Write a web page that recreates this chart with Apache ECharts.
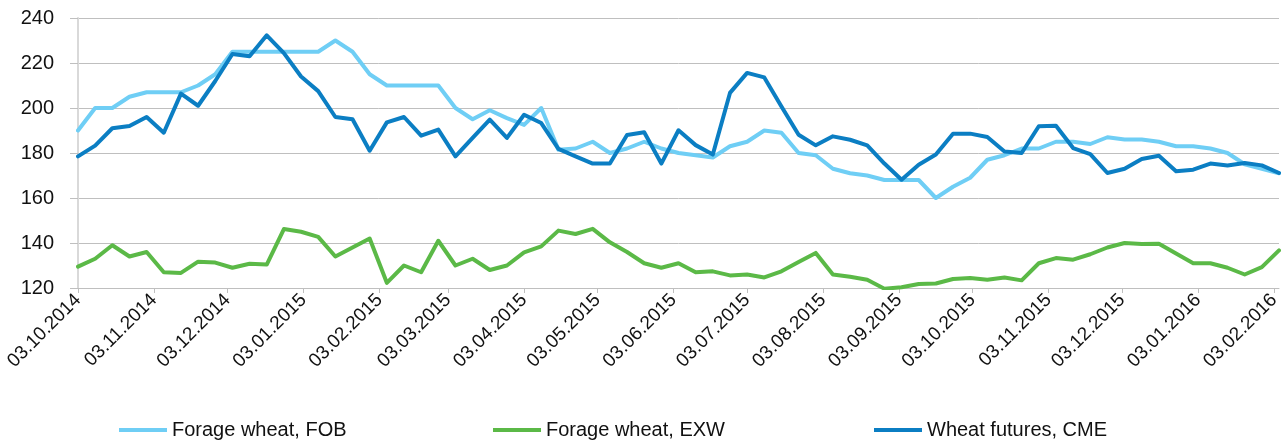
<!DOCTYPE html>
<html>
<head>
<meta charset="utf-8">
<title>Wheat prices</title>
<script src="https://cdn.jsdelivr.net/npm/echarts@6/dist/echarts.min.js"></script>
<style>
  html, body { margin: 0; padding: 0; background: #ffffff; }
  #chart { width: 1285px; height: 443px; }
</style>
</head>
<body>
<div id="chart"></div>
<script>
// Weekly observation dates (Fridays)
const weekDates = [
  '03.10.2014', '10.10.2014', '17.10.2014', '24.10.2014', '31.10.2014',
  '07.11.2014', '14.11.2014', '21.11.2014', '28.11.2014',
  '05.12.2014', '12.12.2014', '19.12.2014', '26.12.2014',
  '02.01.2015', '09.01.2015', '16.01.2015', '23.01.2015', '30.01.2015',
  '06.02.2015', '13.02.2015', '20.02.2015', '27.02.2015',
  '06.03.2015', '13.03.2015', '20.03.2015', '27.03.2015',
  '03.04.2015', '10.04.2015', '17.04.2015', '24.04.2015',
  '01.05.2015', '08.05.2015', '15.05.2015', '22.05.2015', '29.05.2015',
  '05.06.2015', '12.06.2015', '19.06.2015', '26.06.2015',
  '03.07.2015', '10.07.2015', '17.07.2015', '24.07.2015', '31.07.2015',
  '07.08.2015', '14.08.2015', '21.08.2015', '28.08.2015',
  '04.09.2015', '11.09.2015', '18.09.2015', '25.09.2015',
  '02.10.2015', '09.10.2015', '16.10.2015', '23.10.2015', '30.10.2015',
  '06.11.2015', '13.11.2015', '20.11.2015', '27.11.2015',
  '04.12.2015', '11.12.2015', '18.12.2015', '25.12.2015',
  '01.01.2016', '08.01.2016', '15.01.2016', '22.01.2016', '29.01.2016',
  '05.02.2016'
];

// Monthly tick labels on the date axis
const monthTicks = [
  '03.10.2014', '03.11.2014', '03.12.2014', '03.01.2015', '03.02.2015',
  '03.03.2015', '03.04.2015', '03.05.2015', '03.06.2015', '03.07.2015',
  '03.08.2015', '03.09.2015', '03.10.2015', '03.11.2015', '03.12.2015',
  '03.01.2016', '03.02.2016'
];

// Prices, USD/t
const fobPrices = [
  190, 200, 200, 205, 207, 207, 207, 210, 215, 225,
  225, 225, 225, 225, 225, 230, 225, 215, 210, 210,
  210, 210, 200, 195, 199, 195.5, 192.5, 200, 181.5, 182,
  185, 180, 182, 185, 182, 180, 179, 178, 183, 185,
  190, 189, 180, 179, 173, 171, 170, 168, 168, 168,
  160, 165, 169, 177, 179, 182, 182, 185, 185, 184,
  187, 186, 186, 185, 183, 183, 182, 180, 175, 173,
  171
];

const exwPrices = [
  129.5, 133, 139, 134, 136, 127, 126.7, 131.7, 131.3, 129,
  130.8, 130.4, 146.2, 145, 142.7, 134, 138, 142, 122.3, 130,
  127, 141, 130, 133, 128, 130, 135.8, 138.5, 145.5, 144,
  146.3, 140.3, 136, 131, 129, 131, 127, 127.4, 125.6, 126,
  124.7, 127.4, 131.6, 135.6, 126, 125, 123.7, 119.7, 120.3, 121.8,
  122, 124, 124.4, 123.7, 124.7, 123.4, 131, 133.3, 132.6, 135,
  138, 140, 139.6, 139.7, 135.3, 131, 131, 129, 126, 129.3,
  136.7
];

const cmeFutures = [
  178.5, 183.3, 191, 192, 196, 189, 206.4, 201, 212, 224,
  223, 232.3, 224.4, 214, 207.5, 196, 195, 181, 193.6, 196,
  187.7, 190.4, 178.5, 186.7, 194.8, 186.7, 197, 193.3, 181.8, 178.5,
  175.3, 175.3, 188, 189.2, 175.3, 190.1, 183.5, 179.3, 206.7, 215.6,
  213.6, 200.7, 188.1, 183.4, 187.4, 185.9, 183.4, 175.3, 168.1, 174.8,
  179.3, 188.6, 188.6, 187.1, 180.7, 180, 191.9, 192.1, 182.2, 179.5,
  171.1, 173, 177.3, 178.8, 171.9, 172.6, 175.3, 174.4, 175.6, 174.5,
  171.1
];

const seriesNames = ['Forage wheat, FOB', 'Forage wheat, EXW', 'Wheat futures, CME'];
const seriesColors = ['#6FCEF5', '#5BB947', '#0B7EC3'];
const seriesValues = [fobPrices, exwPrices, cmeFutures];

const FONT = "'Liberation Sans', Arial, sans-serif";
const TEXT_COLOR = '#111111';
const GRID_COLOR = '#BFBFBF';

function parseDay(s) {
  const [d, m, y] = s.split('.').map(Number);
  return Date.UTC(y, m - 1, d);
}
function pad(n) { return n < 10 ? '0' + n : '' + n; }
function formatDay(t) {
  const dt = new Date(t);
  return pad(dt.getUTCDate()) + '.' + pad(dt.getUTCMonth() + 1) + '.' + dt.getUTCFullYear();
}

const weekTimes = weekDates.map(parseDay);
const tickTimes = monthTicks.map(parseDay);

const series = seriesNames.map((name, i) => ({
  name: name,
  type: 'line',
  data: weekTimes.map((t, k) => [t, seriesValues[i][k]]),
  showSymbol: false,
  symbol: 'none',
  smooth: false,
  z: 2 + i,
  lineStyle: { color: seriesColors[i], width: 4, join: 'round', cap: 'round' },
  itemStyle: { color: seriesColors[i] }
}));

// One legend block per series, spaced along the bottom
const legendLefts = [119, 493, 874];
const legends = seriesNames.map((name, i) => ({
  data: [{ name: name, icon: 'rect' }],
  left: legendLefts[i],
  top: 420,
  padding: 0,
  itemWidth: 48,
  itemHeight: 4,
  itemGap: 5,
  selectedMode: false,
  textStyle: { fontFamily: FONT, fontSize: 20, color: TEXT_COLOR }
}));

const chart = echarts.init(document.getElementById('chart'), null, { renderer: 'canvas' });
chart.setOption({
  animation: false,
  backgroundColor: '#ffffff',
  grid: { left: 78, right: 6, top: 18, bottom: 155, containLabel: false },
  legend: legends,
  xAxis: {
    type: 'value',
    min: weekTimes[0],
    max: weekTimes[weekTimes.length - 1],
    axisLine: { show: true, lineStyle: { color: GRID_COLOR, width: 1 } },
    axisTick: {
      show: true,
      length: 5,
      customValues: tickTimes,
      lineStyle: { color: GRID_COLOR, width: 1 }
    },
    axisLabel: {
      customValues: tickTimes,
      formatter: (v) => formatDay(v),
      rotate: 45,
      margin: 9,
      fontFamily: FONT,
      fontSize: 19,
      color: TEXT_COLOR
    },
    splitLine: { show: false }
  },
  yAxis: {
    type: 'value',
    min: 120,
    max: 240,
    interval: 20,
    axisLine: { show: true, lineStyle: { color: '#D9D9D9', width: 2 } },
    axisTick: { show: true, length: 8, lineStyle: { color: GRID_COLOR, width: 1 } },
    axisLabel: { margin: 24, fontFamily: FONT, fontSize: 20, color: TEXT_COLOR },
    splitLine: { show: true, lineStyle: { color: GRID_COLOR, width: 1 } }
  },
  series: series
});
</script>
</body>
</html>
